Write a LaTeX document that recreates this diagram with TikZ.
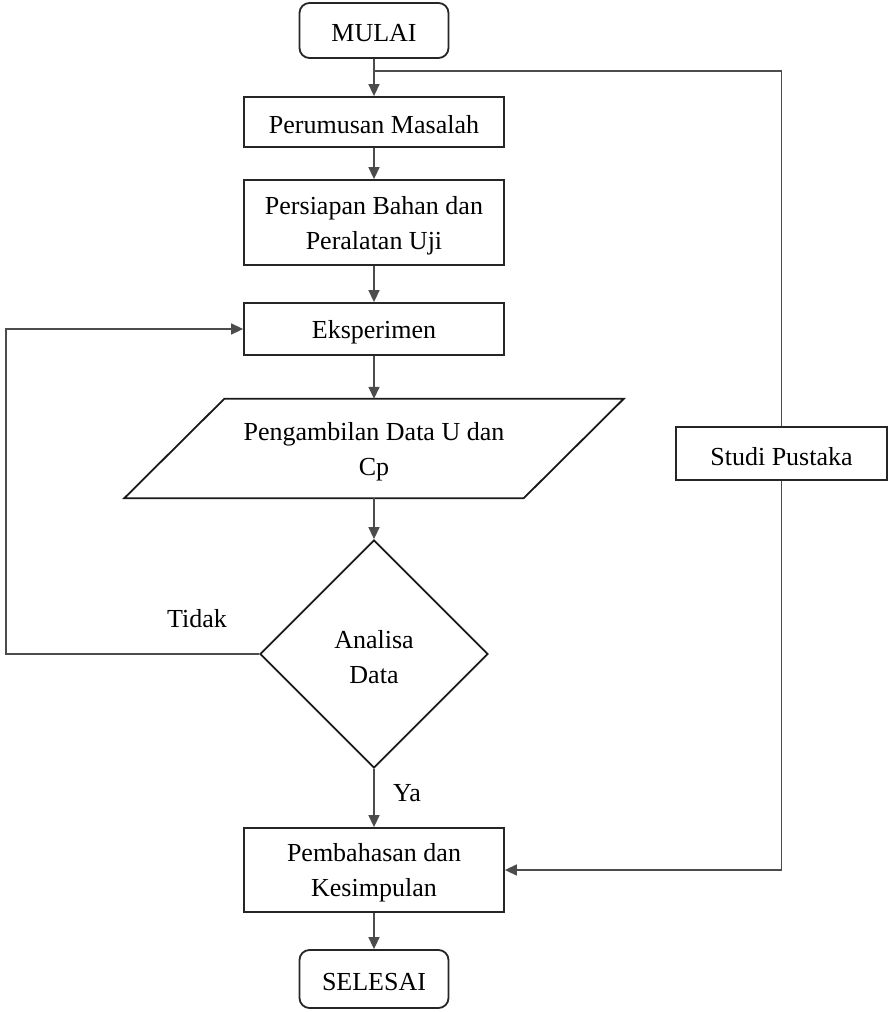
\documentclass[tikz,border=0pt]{standalone}
\usepackage{fontspec}
\setmainfont{Liberation Serif}
\usetikzlibrary{shapes.geometric,arrows.meta}
\begin{document}
\begin{tikzpicture}[x=1pt,y=-1pt,
  every node/.style={font=\fontsize{26}{35}\selectfont, align=center, inner sep=0pt},
  txt/.style={label={[yshift=-3pt]center:{#1}}},
  procbox/.style={draw=black!85, line width=1.8pt, rectangle, minimum width=260pt},
  termbox/.style={draw=black!85, line width=1.8pt, rectangle, rounded corners=10pt, minimum width=149pt},
  ioframe/.style={rectangle, minimum width=499pt, minimum height=99pt},
  ioline/.style={draw=black!90, line width=1.8pt, line join=miter},
  decbox/.style={draw=black!90, line width=1.8pt, diamond, minimum width=228pt, minimum height=228pt},
  conn/.style={draw=black!70, line width=1.5pt},
  arr/.style={conn, -{Triangle[length=12pt,width=11pt]}}
]
\useasboundingbox (0,0) rectangle (890,1012);
\node[termbox, minimum height=55pt, txt=MULAI] (mulai) at (374,30.5) {\phantom{M}};
\node[procbox, minimum height=50pt, txt=Perumusan Masalah] (perumusan) at (374,122) {\phantom{M}};
\node[procbox, minimum height=85pt, txt={Persiapan Bahan dan\\Peralatan Uji}] (persiapan) at (374,222.5) {\phantom{M}};
\node[procbox, minimum height=52pt, txt=Eksperimen] (eksperimen) at (374,329) {\phantom{M}};
\node[ioframe, txt={Pengambilan Data U dan\\Cp}] (pengambilan) at (374,448.5) {\phantom{M}};
\draw[ioline] ([xshift=100pt]pengambilan.north west) -- (pengambilan.north east)
  -- ([xshift=-100pt]pengambilan.south east) -- (pengambilan.south west) -- cycle;
\node[decbox, txt={Analisa\\Data}] (analisa) at (374,654) {\phantom{M}};
\node[procbox, minimum height=84pt, txt={Pembahasan dan\\Kesimpulan}] (pembahasan) at (374,870) {\phantom{M}};
\node[termbox, minimum height=58pt, txt=SELESAI] (selesai) at (374,979) {\phantom{M}};
\node[procbox, minimum width=211pt, minimum height=53pt, txt=Studi Pustaka] (studi) at (781.5,453.5) {\phantom{M}};
\node (tidak) at (197,619) {Tidak};
\node (ya) at (407,793) {Ya};
\coordinate (j) at (374,71);
\coordinate (loopc) at (6,654);
\draw[arr] (mulai.south) -- (perumusan.north);
\draw[conn] (j) -- (j -| studi.north) -- (studi.north);
\draw[arr] (perumusan.south) -- (persiapan.north);
\draw[arr] (persiapan.south) -- (eksperimen.north);
\draw[arr] (eksperimen.south) -- (pengambilan.north);
\draw[arr] (pengambilan.south) -- (analisa.north);
\draw[arr] (analisa.south) -- (pembahasan.north);
\draw[arr] (pembahasan.south) -- (selesai.north);
\draw[arr] (analisa.west) -- (loopc) |- (eksperimen.west);
\draw[arr] (studi.south) |- (pembahasan.east);
\end{tikzpicture}
\end{document}
